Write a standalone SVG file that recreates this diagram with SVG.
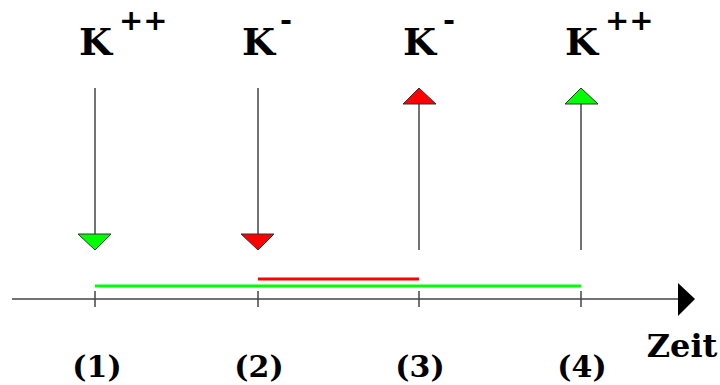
<svg xmlns="http://www.w3.org/2000/svg" width="720" height="385" viewBox="0 0 720 385">
<style>
.k{font-family:"DejaVu Serif",serif;font-weight:bold;font-size:38px;fill:#000}
.sup{font-family:"DejaVu Sans",sans-serif;font-weight:bold;font-size:29px;fill:#000}
.num{font-family:"DejaVu Serif",serif;font-weight:bold;font-size:30px;fill:#000;text-anchor:middle}
.ln{stroke:#444;stroke-width:1.5;fill:none}
.tri{stroke:#333;stroke-width:1}
</style>
<rect width="720" height="385" fill="#fff"/>
<g id="label1"><text class="k" x="79" y="55">K</text><text class="sup" x="119" y="30">++</text></g>
<g id="label2"><text class="k" x="242" y="55">K</text><text class="sup" x="280" y="30">-</text></g>
<g id="label3"><text class="k" x="403" y="55">K</text><text class="sup" x="443" y="30">-</text></g>
<g id="label4"><text class="k" x="565" y="55">K</text><text class="sup" x="605" y="30">++</text></g>
<g id="axis">
<line class="ln" x1="12" y1="299" x2="680" y2="299"/>
<polygon points="678,283 695,299 678,316" fill="#000"/>
<line class="ln" x1="95" y1="291" x2="95" y2="307"/>
<line class="ln" x1="258" y1="291" x2="258" y2="307"/>
<line class="ln" x1="419" y1="291" x2="419" y2="307"/>
<line class="ln" x1="581" y1="291" x2="581" y2="307"/>
</g>
<g id="connectors">
<line class="ln" x1="95" y1="88" x2="95" y2="235"/>
<polygon class="tri" points="78,234 111,234 95,250" fill="#00ff00"/>
<line class="ln" x1="258" y1="88" x2="258" y2="235"/>
<polygon class="tri" points="241,234 274,234 258,250" fill="#ff0000"/>
<line class="ln" x1="419" y1="103" x2="419" y2="250"/>
<polygon class="tri" points="403,104 436,104 419,88" fill="#ff0000"/>
<line class="ln" x1="581" y1="103" x2="581" y2="250"/>
<polygon class="tri" points="565,104 598,104 581,88" fill="#00ff00"/>
</g>
<g id="intervals">
<line x1="258" y1="279" x2="419" y2="279" stroke="#ff0000" stroke-width="3"/>
<line x1="95" y1="286" x2="581" y2="286" stroke="#00ff00" stroke-width="3"/>
</g>
<g id="numbers">
<text class="num" x="97" y="377">(1)</text>
<text class="num" x="259" y="377">(2)</text>
<text class="num" x="420" y="377">(3)</text>
<text class="num" x="582" y="377">(4)</text>
<text class="num" x="682" y="357" style="font-size:32px">Zeit</text>
</g>
</svg>
